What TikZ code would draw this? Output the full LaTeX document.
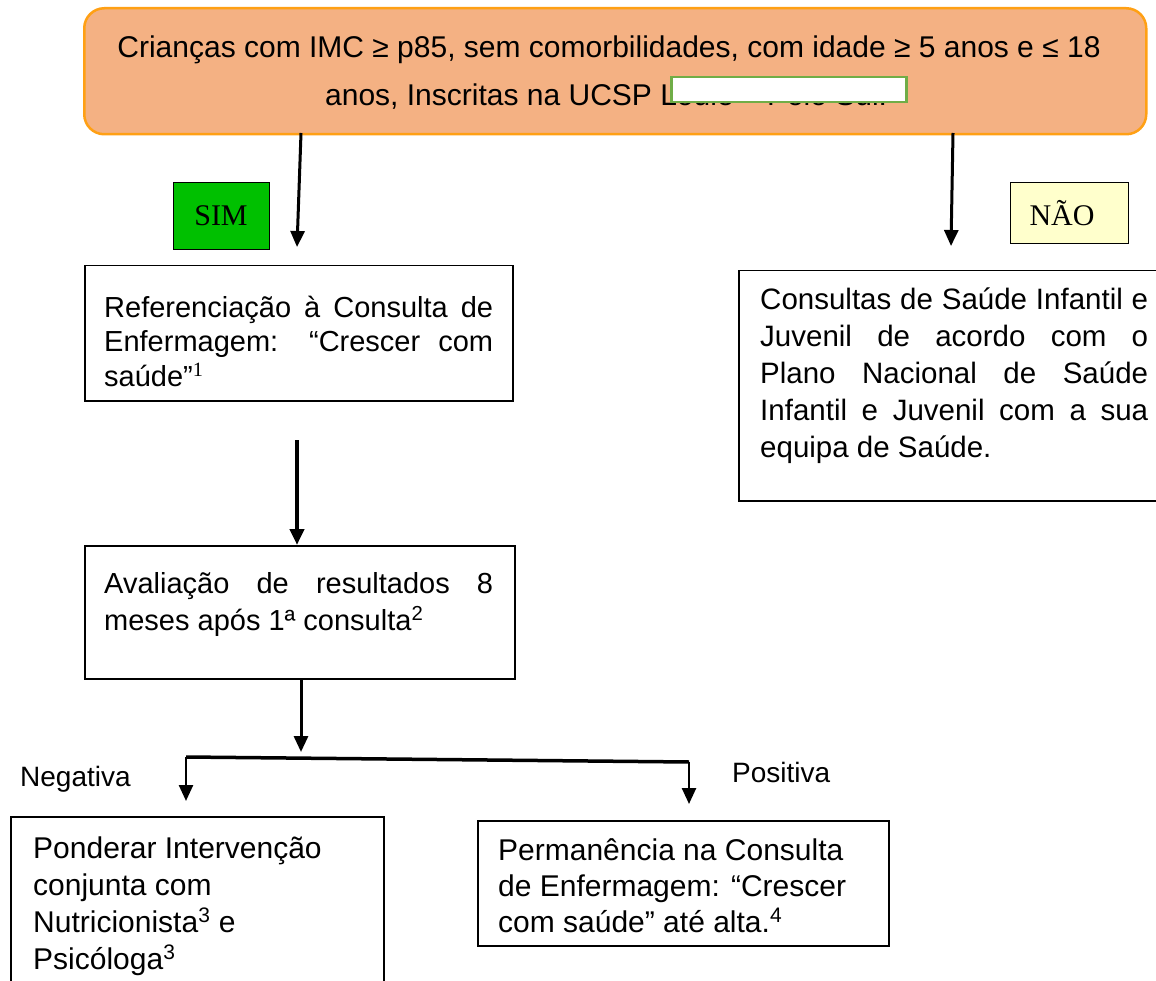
\documentclass[tikz,border=0pt]{standalone}
\usepackage{fontspec}
\setmainfont{Liberation Sans}
\newfontfamily\tnr{Liberation Serif}
\usetikzlibrary{arrows.meta}
\definecolor{topfill}{RGB}{244,177,131}
\definecolor{topdraw}{RGB}{255,160,20}
\definecolor{simgreen}{RGB}{0,192,0}
\definecolor{naoyellow}{RGB}{255,255,204}
\definecolor{boxgreen}{RGB}{112,173,71}
\tikzset{
  arr/.style={line width=3pt,-{Triangle[length=16pt,width=14pt]}},
  plainbox/.style={draw=black,line width=1.5pt,inner sep=0pt,anchor=north west},
  body/.style={inner sep=0pt,anchor=base west,align=left},
  label/.style={inner sep=0pt,anchor=base west,font=\fontsize{28}{32}\selectfont},
  tag/.style={draw=black,line width=1.2pt,inner sep=0pt,anchor=north west},
  tagtext/.style={inner sep=0pt,font=\tnr\fontsize{30}{34}\selectfont}
}
\newcommand{\jl}[1]{\makebox[389pt][s]{#1}}
\newcommand{\jr}[1]{\makebox[388pt][s]{#1}}
\begin{document}
\begin{tikzpicture}[x=1pt,y=-1pt]
\useasboundingbox (0,0) rectangle (1156,981);
% top box
\node[draw=topdraw,fill=topfill,line width=2.5pt,rounded corners=20pt,minimum width=1062pt,minimum height=126pt,anchor=north west,inner sep=0pt] (top) at (83,7) {};
\node[inner sep=0pt,anchor=base,font=\fontsize{30}{34}\selectfont] (t1) at (609,58) {Crianças com IMC ≥ p85, sem comorbilidades, com idade ≥ 5 anos e ≤ 18};
\node[inner sep=0pt,anchor=base west,font=\fontsize{30}{34}\selectfont] (t2) at (325,106) {anos, Inscritas na UCSP Loulé – Polo Sul.};
\node[draw=boxgreen,fill=white,line width=2.5pt,minimum width=235pt,minimum height=25pt,anchor=north west,inner sep=0pt] (mask) at (670,76) {};
% tags
\node[tag,fill=simgreen,minimum width=96pt,minimum height=67pt] (sim) at (173,182) {};
\node[tagtext] (simtxt) at (221,216) {SIM};
\node[tag,fill=naoyellow,minimum width=118pt,minimum height=61pt] (nao) at (1010,182) {};
\node[tagtext] (naotxt) at (1062,213) {NÃO};
% boxes
\node[plainbox,minimum width=428pt,minimum height=135pt] (ref) at (84,265) {};
\node[body,font=\fontsize{29}{34.5}\selectfont] (reftxt) at (104,386) {\jl{Referenciação à Consulta de}\\\jl{Enfermagem: “Crescer com}\\saúde”{\tnr\textsuperscript{1}}};
\node[plainbox,minimum width=430pt,minimum height=230pt] (cons) at (738,270) {};
\node[body,font=\fontsize{29.5}{36.8}\selectfont] (constxt) at (760,457) {\jr{Consultas de Saúde Infantil e}\\\jr{Juvenil de acordo com o}\\\jr{Plano Nacional de Saúde}\\\jr{Infantil e Juvenil com a sua}\\equipa de Saúde.};
\node[plainbox,minimum width=430pt,minimum height=133pt] (aval) at (84,545) {};
\node[body,font=\fontsize{29}{36.5}\selectfont] (avaltxt) at (104,630) {\jl{Avaliação de resultados 8}\\meses após 1ª consulta\textsuperscript{2}};
\node[plainbox,minimum width=373pt,minimum height=180pt] (pond) at (10,816) {};
\node[body,font=\fontsize{30}{37}\selectfont] (pondtxt) at (33,969) {Ponderar Intervenção\\conjunta com\\Nutricionista\textsuperscript{3} e\\Psicóloga\textsuperscript{3}};
\node[plainbox,minimum width=411pt,minimum height=125pt] (perm) at (477,820) {};
\node[body,font=\fontsize{30}{36}\selectfont] (permtxt) at (498,932) {Permanência na Consulta\\de Enfermagem: “Crescer\\com saúde” até alta.\textsuperscript{4}};
\node[label] (neg) at (20,786) {Negativa};
\node[label] (pos) at (732,782) {Positiva};
% connectors
\coordinate (a1s) at (301,133);
\coordinate (a1e) at (297,247);
\coordinate (a2s) at (953,133);
\coordinate (a2e) at (951,246);
\draw[arr] (a1s) -- (a1e);
\draw[arr] (a2s) -- (a2e);
\coordinate (a4s) at (297,440);
\draw[arr,line width=4.5pt] (a4s) -- (aval.north -| a4s);
\coordinate (a3s) at (301,678);
\coordinate (a3e) at (301,752);
\draw[arr] (a3s) -- (a3e);
\coordinate (bl) at (186,757);
\coordinate (br) at (689,762);
\coordinate (ble) at (186,801);
\coordinate (bre) at (689,804);
\draw[line width=3.5pt] (bl) -- (br);
\draw[arr,line width=2.5pt] (bl) -- (ble);
\draw[arr,line width=2.5pt] (br) -- (bre);
\end{tikzpicture}
\end{document}
